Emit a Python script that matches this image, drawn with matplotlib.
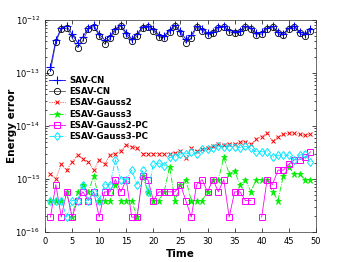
import numpy as np
import matplotlib
matplotlib.use("Agg")
import matplotlib.pyplot as plt
from matplotlib.ticker import LogLocator, NullFormatter

t = np.arange(1, 50)

sav_cn = np.array([1.3, 4.1, 7.1, 7.6, 5.4, 3.7, 4.8, 7.1, 7.9, 5.4,
                   4.2, 4.9, 6.8, 8.0, 5.7, 4.4, 5.4, 7.4, 7.7, 6.7,
                   5.3, 5.0, 6.4, 8.0, 6.1, 4.3, 5.1, 7.6, 6.7, 5.7,
                   6.0, 7.4, 7.6, 6.4, 6.0, 6.2, 7.6, 7.0, 5.7, 5.8,
                   7.0, 7.6, 6.0, 5.5, 7.0, 7.8, 6.0, 5.4, 6.6]) * 1e-13

esav_cn = np.array([1.06, 3.8, 6.7, 7.0, 4.6, 3.0, 4.1, 6.7, 7.5, 5.0,
                    3.5, 4.5, 6.3, 7.7, 5.2, 4.0, 5.0, 7.0, 7.3, 6.3,
                    4.8, 4.6, 6.0, 7.7, 5.6, 3.7, 4.6, 7.3, 6.3, 5.2,
                    5.6, 7.0, 7.3, 6.0, 5.6, 5.8, 7.3, 6.7, 5.2, 5.4,
                    6.7, 7.3, 5.6, 5.1, 6.7, 7.5, 5.6, 5.0, 6.3]) * 1e-13

gauss2 = np.array([1.25, 1.0, 1.9, 1.45, 2.1, 2.8, 2.4, 2.1, 1.45, 2.3,
                   1.9, 2.8, 3.0, 3.4, 4.4, 4.0, 3.8, 3.0, 3.0, 3.0,
                   3.0, 3.0, 3.0, 3.1, 3.3, 2.5, 3.8, 3.3, 3.6, 3.8,
                   4.2, 4.5, 4.4, 4.6, 4.5, 4.9, 5.0, 4.5, 5.6, 6.3,
                   7.3, 5.1, 6.3, 6.9, 7.3, 7.3, 6.9, 6.6, 7.0]) * 1e-15

gauss3 = np.array([3.9, 3.9, 3.9, 5.7, 1.9, 5.7, 7.8, 5.7, 11.4, 3.9,
                   3.9, 3.9, 7.8, 3.9, 3.9, 3.9, 1.9, 11.4, 5.7, 3.9,
                   3.9, 5.7, 16.9, 3.9, 7.8, 9.7, 3.9, 3.9, 3.9, 5.7,
                   9.7, 9.7, 25.4, 12.5, 14.1, 7.8, 9.7, 5.7, 9.7, 9.7,
                   9.7, 5.7, 3.9, 11.4, 16.9, 12.5, 12.5, 9.7, 9.7]) * 1e-16

gauss2_pc = np.array([1.9, 7.8, 1.9, 5.7, 1.9, 3.9, 5.7, 3.9, 5.7, 1.9,
                      5.7, 5.7, 9.7, 5.7, 9.7, 1.9, 1.9, 11.4, 9.7, 3.9,
                      5.7, 5.7, 5.7, 5.7, 7.8, 3.9, 1.9, 7.8, 9.7, 5.7,
                      9.7, 5.7, 9.7, 1.9, 5.7, 5.7, 3.9, 3.9, np.nan, 1.9,
                      9.7, 7.8, 14.6, 14.6, 18.8, 22.9, 22.9, 25.4, 32.3]) * 1e-16

gauss3_pc = np.array([3.9, 3.9, 3.9, 1.9, 3.9, 3.9, 7.8, 3.9, 5.7, 3.9,
                      7.8, 7.8, 22.9, 9.7, 9.7, 14.6, 7.8, 14.6, 5.7, 18.8,
                      20.0, 17.5, 25.4, 26.0, 29.5, 29.5, 31.5, 29.5, 36.5, 36.5,
                      37.5, 41.5, 40.5, 40.5, 40.5, 39.0, 41.5, 37.5, 32.5, 32.5,
                      32.5, 25.4, 28.0, 28.0, 28.0, 22.9, 28.0, 29.5, 21.0]) * 1e-16

yticks = [1e-16, 1e-15, 1e-14, 1e-13, 1e-12]
yticklabels = [r'$10^{-16}$', r'$10^{-15}$', r'$10^{-14}$', r'$10^{-13}$',
               r'$10^{-12}$']

plt.rcParams['font.family'] = 'DejaVu Sans'
fig = plt.figure(figsize=(3.49, 2.62), dpi=100)
ax = fig.add_axes([0.129, 0.115, 0.776, 0.809])

lw = 0.6
ax.plot(t, esav_cn, '-', color='#555555', marker='o', mfc='none', mec='black',
        ms=4.5, mew=0.6, lw=lw, label='ESAV-CN', zorder=3)
ax.plot(t, sav_cn, '-', color='#0000ff', marker='+', ms=5.5, mew=0.8, lw=lw,
        label='SAV-CN', zorder=4)
ax.plot(t, gauss2, ':', color='#ff0000', marker='x', ms=3.5, mew=0.7, lw=lw,
        label='ESAV-Gauss2')
ax.plot(t, gauss3, '-.', color='#00ee00', marker='*', ms=4.5, mew=0.5, lw=lw,
        label='ESAV-Gauss3')
ax.plot(t, gauss2_pc, '-', color='#ff00ff', marker='s', mfc='none', ms=3.8,
        mew=0.7, lw=lw, label='ESAV-Gauss2-PC')
ax.plot(t, gauss3_pc, '-.', color='#00e5ff', marker='d', mfc='none', ms=4.5,
        mew=0.7, lw=lw, label='ESAV-Gauss3-PC')

ax.set_yscale('log')
ax.set_xlim(0, 50)
ax.set_ylim(1e-16, 1e-12)
ax.set_xticks(np.arange(0, 51, 5))
ax.set_yticks(yticks)
ax.set_yticklabels(yticklabels)
ax.yaxis.set_minor_locator(LogLocator(base=10, subs=np.arange(2, 10)))
ax.yaxis.set_minor_formatter(NullFormatter())
ax.tick_params(which='both', direction='in', top=True, right=True,
               labelsize=6, width=0.5)
ax.tick_params(which='major', length=3)
ax.tick_params(which='minor', length=1.5)
for s in ax.spines.values():
    s.set_linewidth(0.5)
    s.set_color('#333333')

ax.set_xlabel('Time', fontsize=7.5, fontweight='bold', labelpad=2)
ax.set_ylabel('Energy error', fontsize=7.5, fontweight='bold')
ax.yaxis.set_label_coords(-0.105, 0.5)

handles, labels = ax.get_legend_handles_labels()
order = [1, 0, 2, 3, 4, 5]
leg = ax.legend([handles[i] for i in order], [labels[i] for i in order],
                loc='upper left', bbox_to_anchor=(0.015, 0.735), frameon=False,
                prop={'size': 6.2, 'weight': 'bold'}, handlelength=1.8,
                handletextpad=0.5, labelspacing=0.25, borderpad=0,
                borderaxespad=0)

fig.savefig('out.png', dpi=100)
